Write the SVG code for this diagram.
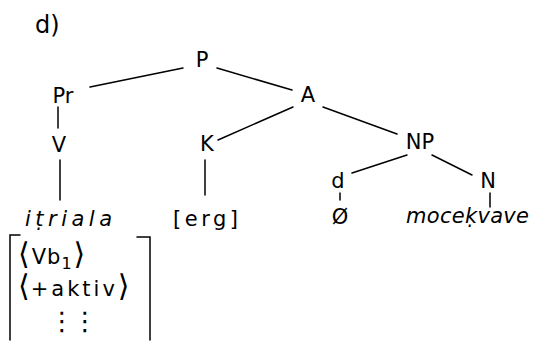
<svg xmlns="http://www.w3.org/2000/svg" width="533" height="341" viewBox="0 0 533 341">
<style>
text{font-family:"DejaVu Sans","Liberation Sans",sans-serif;font-size:21px;fill:#000;}
.c{text-anchor:middle;}
.it{font-style:italic;}
.br{font-size:30px;}
.e line,.e polyline{stroke:#000;stroke-width:1.5;fill:none;stroke-linecap:round;}
</style>
<rect width="533" height="341" fill="#fff"/>
<text x="35" y="33" style="font-size:24px">d)</text>
<g class="e" id="connectors">
<line x1="90" y1="87" x2="183" y2="68"/>
<line x1="217" y1="68" x2="292" y2="90"/>
<line x1="58" y1="107" x2="58" y2="128"/>
<line x1="218" y1="140" x2="293" y2="107"/>
<line x1="323" y1="107" x2="397" y2="134"/>
<line x1="407" y1="155" x2="352" y2="173"/>
<line x1="432" y1="155" x2="472" y2="175"/>
<line x1="340" y1="193" x2="340" y2="200"/>
<line x1="490" y1="193" x2="490" y2="207"/>
<line x1="60" y1="160" x2="60" y2="200"/>
<line x1="205" y1="160" x2="205" y2="195"/>
</g>
<g id="P"><text class="c" x="202" y="67">P</text></g>
<g id="Pr"><text class="c" x="63" y="103">Pr</text></g>
<g id="A"><text class="c" x="308" y="102">A</text></g>
<g id="V"><text class="c" x="59" y="152">V</text></g>
<g id="K"><text class="c" x="207" y="151">K</text></g>
<g id="NP"><text class="c" x="420" y="149">NP</text></g>
<g id="d"><text class="c" x="338" y="188">d</text></g>
<g id="N"><text class="c" x="488" y="188">N</text></g>
<g id="empty"><text class="c" x="340" y="224">Ø</text></g>
<g id="mocekvave"><text class="it" x="406" y="223" textLength="123" lengthAdjust="spacing">moceḳvave</text></g>
<g id="itriala"><text class="it" x="25" y="226" textLength="87" lengthAdjust="spacing">iṭriala</text></g>
<g id="erg"><text x="173" y="226" textLength="65" lengthAdjust="spacing">[erg]</text></g>
<g id="features">
<g class="e"><polyline points="20,235 10,235 10,340"/><polyline points="137,237 150,237 150,340"/></g>
<text x="18" y="264"><tspan class="br">⟨</tspan><tspan dx="2" letter-spacing="1">Vb</tspan><tspan dy="5" style="font-size:16px">1</tspan><tspan class="br" dx="2" dy="-5">⟩</tspan></text>
<text x="18" y="296"><tspan class="br">⟨</tspan><tspan dx="1" letter-spacing="3">+aktiv</tspan><tspan class="br">⟩</tspan></text>
<text class="c" x="72" y="330" style="font-size:26px;letter-spacing:-3px">⋮⋮</text>
</g>
</svg>
